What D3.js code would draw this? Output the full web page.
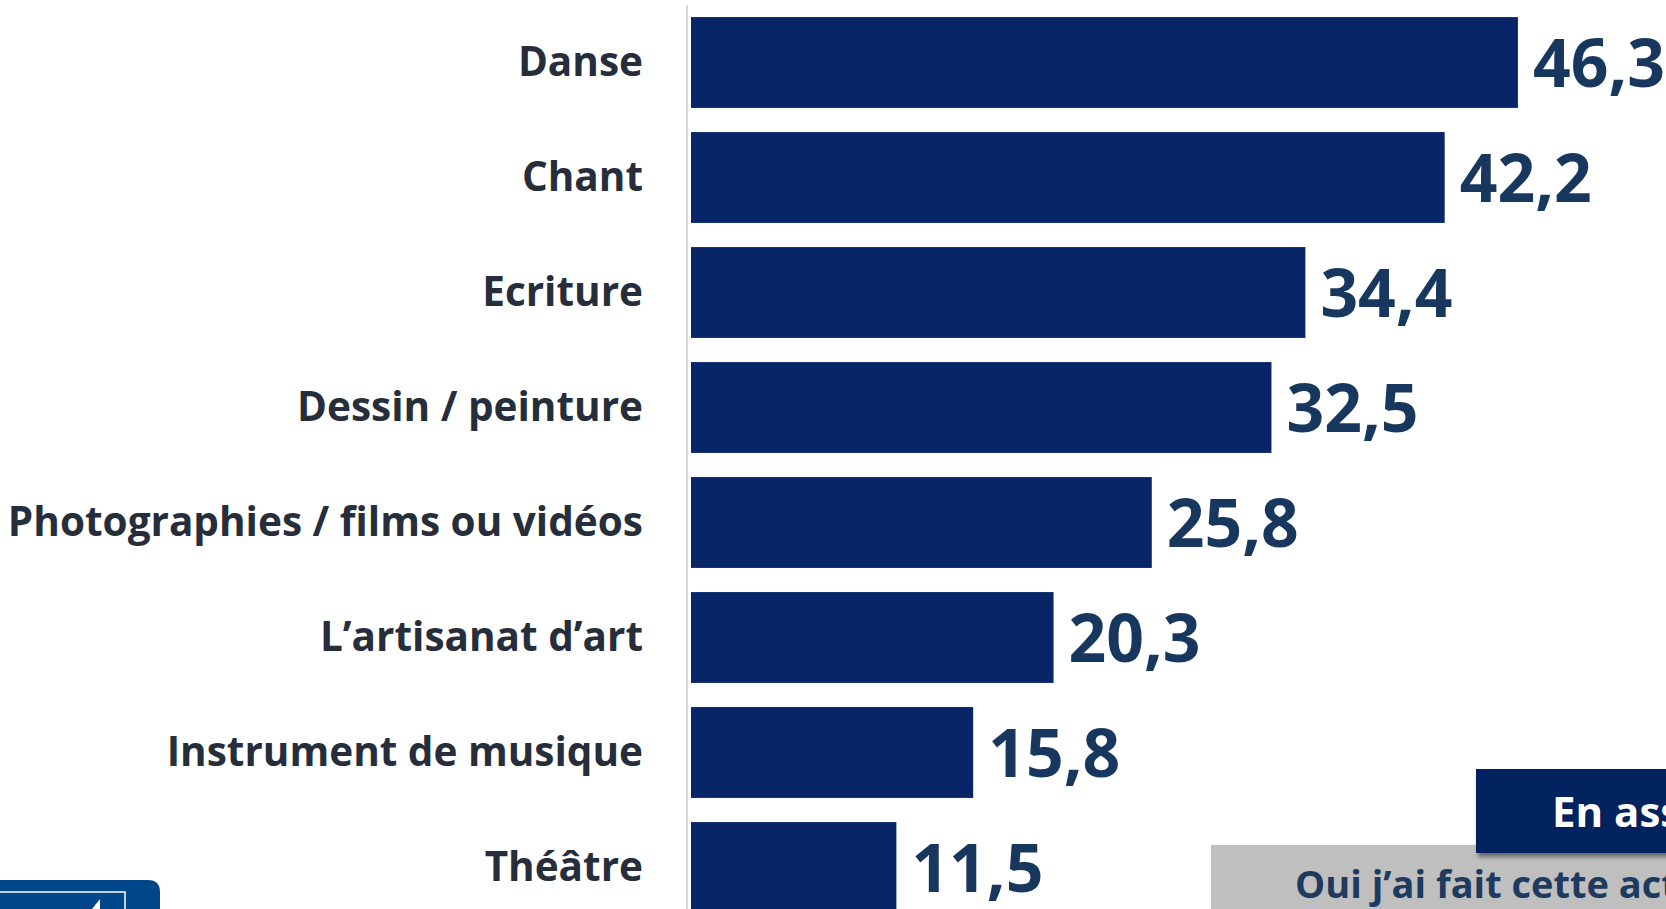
<!DOCTYPE html>
<html>
<head>
<meta charset="utf-8">
<script src="https://cdn.jsdelivr.net/npm/d3@7"></script>
<style>
  html, body { margin: 0; padding: 0; background: #fff; overflow: hidden; }
  svg { display: block; }
</style>
</head>
<body>
<svg id="chart"></svg>
<script>
// données
var categories = ["Danse", "Chant", "Ecriture", "Dessin / peinture",
  "Photographies / films ou vidéos", "L\u2019artisanat d\u2019art",
  "Instrument de musique", "Th\u00e9\u00e2tre"];
var values = [46.3, 42.2, 34.4, 32.5, 25.8, 20.3, 15.8, 11.5];
var valueLabels = ["46,3", "42,2", "34,4", "32,5", "25,8", "20,3", "15,8", "11,5"];
var boxTitle = "En association";
var boxSubtitle = "Oui j\u2019ai fait cette activit\u00e9";

var width = 1666, height = 909;
var font = "'Open Sans', Lato, sans-serif";

var svg = d3.select("#chart")
  .attr("width", width)
  .attr("height", height);

var defs = svg.append("defs");
var f = defs.append("filter").attr("id", "shadow")
  .attr("x", "-5%").attr("y", "-10%").attr("width", "115%").attr("height", "140%");
f.append("feDropShadow").attr("dx", 2).attr("dy", 4).attr("stdDeviation", 2)
  .attr("flood-color", "#000").attr("flood-opacity", 0.45);

// échelles
var xScale = d3.scaleLinear()
  .domain([0, 50])
  .range([691, 1584]);

var yScale = d3.scaleBand()
  .domain(categories)
  .range([5, 925])
  .paddingInner(0.21)
  .paddingOuter(0.105);

// ligne d'axe
svg.append("line")
  .attr("x1", 687).attr("x2", 687)
  .attr("y1", 5).attr("y2", height)
  .attr("stroke", "#d9d9d9")
  .attr("stroke-width", 2);

// barres
svg.selectAll("rect.bar")
  .data(values)
  .enter().append("rect")
  .attr("class", "bar")
  .attr("x", xScale(0))
  .attr("y", function(d, i) { return yScale(categories[i]); })
  .attr("width", function(d) { return xScale(d) - xScale(0); })
  .attr("height", yScale.bandwidth())
  .attr("fill", "#082568");

// libellés catégories
svg.selectAll("text.cat")
  .data(categories)
  .enter().append("text")
  .attr("class", "cat")
  .attr("x", 643)
  .attr("y", function(d) { return yScale(d) + yScale.bandwidth() / 2 + 13; })
  .attr("text-anchor", "end")
  .attr("font-family", font)
  .attr("font-weight", 700)
  .attr("font-size", 40.5)
  .attr("fill", "#262d3b")
  .text(function(d) { return d; });

// valeurs
svg.selectAll("text.val")
  .data(values)
  .enter().append("text")
  .attr("class", "val")
  .attr("x", function(d) { return xScale(d) + 15; })
  .attr("y", function(d, i) { return yScale(categories[i]) + yScale.bandwidth() / 2 + 24; })
  .attr("font-family", font)
  .attr("font-weight", 700)
  .attr("font-size", 66)
  .attr("fill", "#17375e")
  .text(function(d, i) { return valueLabels[i]; });

// encadrés en bas à droite
svg.append("rect")
  .attr("x", 1211).attr("y", 845)
  .attr("width", 500).attr("height", 80)
  .attr("fill", "#bfbfbf");

svg.append("text")
  .attr("x", 1295).attr("y", 898)
  .attr("font-family", font)
  .attr("font-weight", 700)
  .attr("font-size", 38)
  .attr("fill", "#1f3a5f")
  .text(boxSubtitle);

svg.append("rect")
  .attr("x", 1476).attr("y", 769)
  .attr("width", 260).attr("height", 84)
  .attr("fill", "#04205f")
  .attr("filter", "url(#shadow)");

svg.append("text")
  .attr("x", 1552).attr("y", 827)
  .attr("font-family", font)
  .attr("font-weight", 700)
  .attr("font-size", 42)
  .attr("fill", "#fff")
  .text(boxTitle);

// logo (coin bas gauche)
var logo = svg.append("g");
logo.append("path")
  .attr("d", "M-10,880 H148 Q160,880 160,892 V920 H-10 Z")
  .attr("fill", "#00468b");
logo.append("rect")
  .attr("x", -10).attr("y", 892)
  .attr("width", 135).attr("height", 30)
  .attr("fill", "none")
  .attr("stroke", "#fff")
  .attr("stroke-width", 1.5);
logo.append("path")
  .attr("d", "M92,909 L100,899 L100,909 Z")
  .attr("fill", "#fff");
</script>
</body>
</html>
